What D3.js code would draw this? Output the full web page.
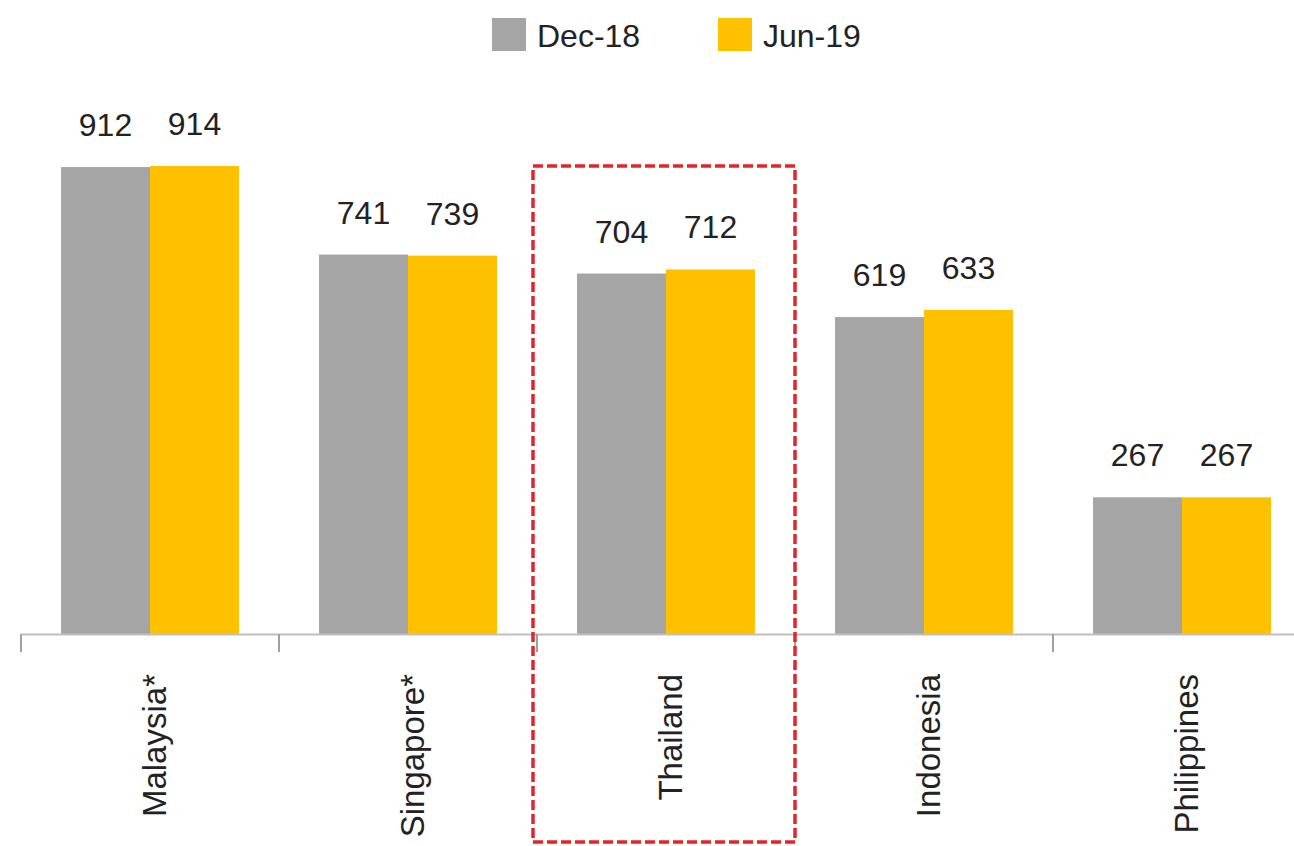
<!DOCTYPE html>
<html>
<head>
<meta charset="utf-8">
<script src="https://cdn.jsdelivr.net/npm/d3@7"></script>
<style>
  body { margin: 0; background: #fff; }
  text { font-family: "Liberation Sans", Arial, sans-serif; fill: #222; }
</style>
</head>
<body>
<svg id="chart"></svg>
<script>
var WIDTH = 1294, HEIGHT = 846;
var BASELINE = 634;

// data
var countries = ["Malaysia*", "Singapore*", "Thailand", "Indonesia", "Philippines"];
var seriesNames = ["Dec-18", "Jun-19"];
var dec18 = [912, 741, 704, 619, 267];
var jun19 = [914, 739, 712, 633, 267];
var seriesColors = ["#a5a5a5", "#ffc000"];
var highlighted = "Thailand";

var svg = d3.select("#chart")
    .attr("width", WIDTH)
    .attr("height", HEIGHT);

//scales
var x = d3.scaleBand()
    .domain(countries)
    .range([21, 21 + 258 * countries.length])
    .paddingInner(0)
    .paddingOuter(0);

var x1 = d3.scaleBand()
    .domain(seriesNames)
    .range([0, x.bandwidth()])
    .paddingOuter(0.45)
    .paddingInner(0);

var y = d3.scaleLinear()
    .domain([0, 1000])
    .range([BASELINE, BASELINE - 512]);

var color = d3.scaleOrdinal()
    .domain(seriesNames)
    .range(seriesColors);

var rows = countries.map(function (c, i) {
    return { country: c, values: [
        { series: seriesNames[0], value: dec18[i] },
        { series: seriesNames[1], value: jun19[i] }
    ] };
});

//draw bars
var groups = svg.selectAll("g.country")
    .data(rows)
    .enter().append("g")
    .attr("class", "country")
    .attr("transform", function (d) { return "translate(" + x(d.country) + ",0)"; });

groups.selectAll("rect")
    .data(function (d) { return d.values; })
    .enter().append("rect")
    .attr("x", function (d) { return x1(d.series); })
    .attr("y", function (d) { return y(d.value); })
    .attr("width", x1.bandwidth())
    .attr("height", function (d) { return y(0) - y(d.value); })
    .style("fill", function (d) { return color(d.series); });

//value labels
groups.selectAll("text.value")
    .data(function (d) { return d.values; })
    .enter().append("text")
    .attr("class", "value")
    .attr("x", function (d) { return x1(d.series) + x1.bandwidth() / 2; })
    .attr("y", function (d) { return y(d.value) - 31; })
    .style("text-anchor", "middle")
    .style("font-size", "32px")
    .text(function (d) { return d.value; });

//x axis
var axis = svg.append("g")
    .attr("transform", "translate(0," + BASELINE + ")");
axis.append("line")
    .attr("x1", x.range()[0])
    .attr("x2", WIDTH)
    .attr("y1", 0.5)
    .attr("y2", 0.5)
    .style("stroke", "#bfbfbf")
    .style("stroke-width", 2);
var tickPos = countries.map(function (c) { return x(c); });
axis.selectAll("line.tick")
    .data(tickPos)
    .enter().append("line")
    .attr("class", "tick")
    .attr("x1", function (d) { return d; })
    .attr("x2", function (d) { return d; })
    .attr("y1", 0)
    .attr("y2", 18)
    .style("stroke", "#a0a0a0")
    .style("stroke-width", 2);

//category labels, rotated
axis.selectAll("text.cat")
    .data(countries)
    .enter().append("text")
    .attr("class", "cat")
    .attr("transform", function (d) {
        return "translate(" + (x(d) + x.bandwidth() / 2 + 4) + ",40) rotate(-90)";
    })
    .attr("dy", ".35em")
    .style("text-anchor", "end")
    .style("font-size", "33px")
    .text(function (d) { return d; });

//highlight box round Thailand
svg.append("rect")
    .attr("x", x(highlighted) - 4)
    .attr("y", 166)
    .attr("width", x.bandwidth() + 4)
    .attr("height", 676)
    .style("fill", "none")
    .style("stroke", "#e3242b")
    .style("stroke-width", 3.5)
    .style("stroke-dasharray", "10,4");

//legend
var legend = svg.append("g")
    .attr("transform", "translate(492,18)");
var legendX = [0, 226];
var items = legend.selectAll("g.item")
    .data(seriesNames)
    .enter().append("g")
    .attr("class", "item")
    .attr("transform", function (d, i) { return "translate(" + legendX[i] + ",0)"; });
items.append("rect")
    .attr("width", 34)
    .attr("height", 33)
    .style("fill", function (d) { return color(d); });
items.append("text")
    .attr("x", 45)
    .attr("y", 29)
    .style("font-size", "32px")
    .text(function (d) { return d; });
</script>
</body>
</html>
